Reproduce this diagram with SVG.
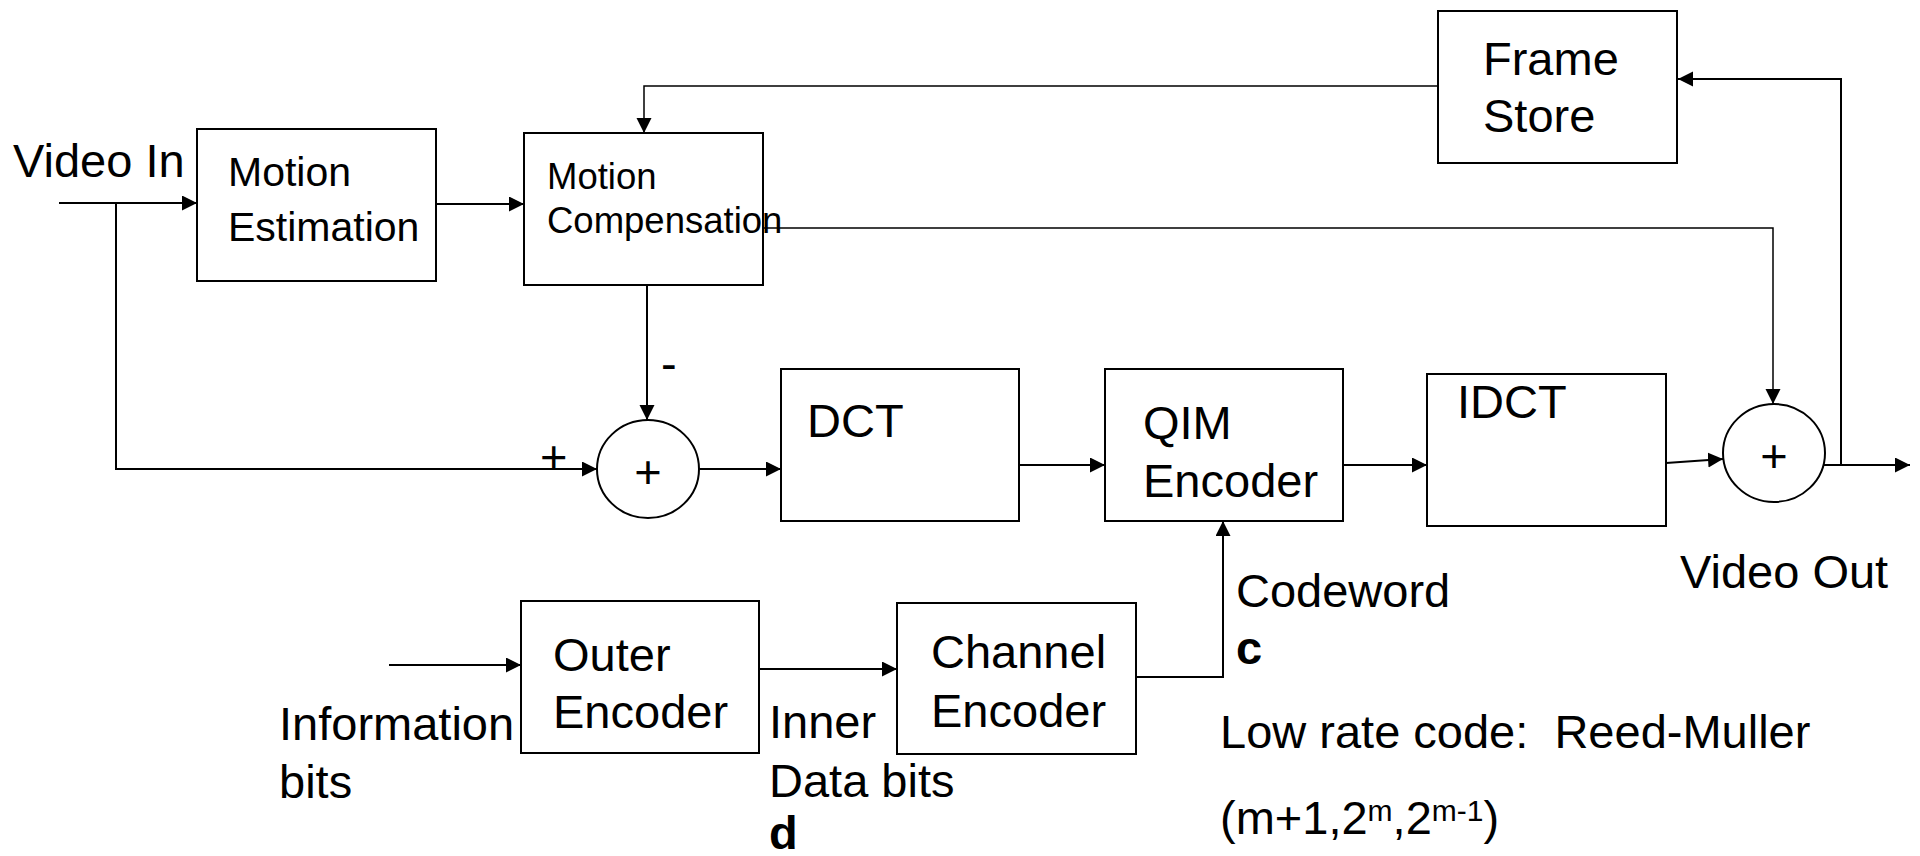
<svg xmlns="http://www.w3.org/2000/svg" width="1920" height="856" viewBox="0 0 1920 856">
<style>
text{font-family:"Liberation Sans",Arial,sans-serif;font-size:47px;fill:#000;white-space:pre}
.box{fill:#fff;stroke:#000;stroke-width:2}
.sm{font-size:36.5px}
.me{font-size:41px}
.b{font-weight:bold}
.c{fill:none;stroke:#000;stroke-width:2}
.t{fill:none;stroke:#000;stroke-width:1.5}
</style>
<defs>
<marker id="ah" markerUnits="userSpaceOnUse" markerWidth="16" markerHeight="16" refX="15" refY="7.5" orient="auto">
<path d="M0,0 L15,7.5 L0,15 z" fill="#000"/>
</marker>
</defs>
<rect width="1920" height="856" fill="#fff"/>

<g id="connectors">
<path class="c" d="M59,203 H197" marker-end="url(#ah)"/>
<path class="c" d="M116,203 V469 H597" marker-end="url(#ah)"/>
<path class="c" d="M437,204 H524" marker-end="url(#ah)"/>
<path class="t" d="M1438,86 H644 V133" marker-end="url(#ah)"/>
<path class="t" d="M763,228 H1773 V404" marker-end="url(#ah)"/>
<path class="c" d="M647,285 V420" marker-end="url(#ah)"/>
<path class="c" d="M699,469 H781" marker-end="url(#ah)"/>
<path class="c" d="M1019,465 H1105" marker-end="url(#ah)"/>
<path class="c" d="M1343,465 H1427" marker-end="url(#ah)"/>
<path class="c" d="M1666,463 L1723,459" marker-end="url(#ah)"/>
<path class="c" d="M1823,465 H1910" marker-end="url(#ah)"/>
<path class="c" d="M1841,465 V79 H1678" marker-end="url(#ah)"/>
<path class="c" d="M389,665 H521" marker-end="url(#ah)"/>
<path class="c" d="M759,669 H897" marker-end="url(#ah)"/>
<path class="c" d="M1136,677 H1223 V521" marker-end="url(#ah)"/>
</g>

<g id="motion-estimation">
<rect class="box" x="197" y="129" width="239" height="152"/>
<text class="me" x="228" y="186">Motion</text>
<text class="me" x="228" y="241">Estimation</text>
</g>

<g id="motion-compensation">
<rect class="box" x="524" y="133" width="239" height="152"/>
<text class="sm" x="547" y="189">Motion</text>
<text class="sm" x="547" y="233">Compensation</text>
</g>

<g id="frame-store">
<rect class="box" x="1438" y="11" width="239" height="152"/>
<text x="1483" y="75">Frame</text>
<text x="1483" y="132">Store</text>
</g>

<g id="sum1">
<ellipse class="box" cx="648" cy="469" rx="51" ry="49"/>
<text x="648" y="488" text-anchor="middle">+</text>
</g>

<g id="dct">
<rect class="box" x="781" y="369" width="238" height="152"/>
<text x="807" y="437">DCT</text>
</g>

<g id="qim-encoder">
<rect class="box" x="1105" y="369" width="238" height="152"/>
<text x="1143" y="439">QIM</text>
<text x="1143" y="497">Encoder</text>
</g>

<g id="idct">
<rect class="box" x="1427" y="374" width="239" height="152"/>
<text x="1457" y="418">IDCT</text>
</g>

<g id="sum2">
<ellipse class="box" cx="1774" cy="453" rx="51" ry="49"/>
<text x="1774" y="472" text-anchor="middle">+</text>
</g>

<g id="outer-encoder">
<rect class="box" x="521" y="601" width="238" height="152"/>
<text x="553" y="671">Outer</text>
<text x="553" y="728">Encoder</text>
</g>

<g id="channel-encoder">
<rect class="box" x="897" y="603" width="239" height="151"/>
<text x="931" y="668">Channel</text>
<text x="931" y="727">Encoder</text>
</g>

<g id="labels">
<text x="13" y="177">Video In</text>
<text x="540" y="473">+</text>
<text x="661" y="380">-</text>
<text x="1680" y="588">Video Out</text>
<text x="279" y="740">Information</text>
<text x="279" y="798">bits</text>
<text x="769" y="738">Inner</text>
<text x="769" y="797">Data bits</text>
<text class="b" x="769" y="849">d</text>
<text x="1236" y="607">Codeword</text>
<text class="b" x="1236" y="664">c</text>
<text x="1220" y="748">Low rate code:  Reed-Muller</text>
<text x="1220" y="834">(m+1,2<tspan font-size="30" dy="-13">m</tspan><tspan dy="13">,2</tspan><tspan font-size="30" dy="-13">m-1</tspan><tspan dy="13">)</tspan></text>
</g>
</svg>
